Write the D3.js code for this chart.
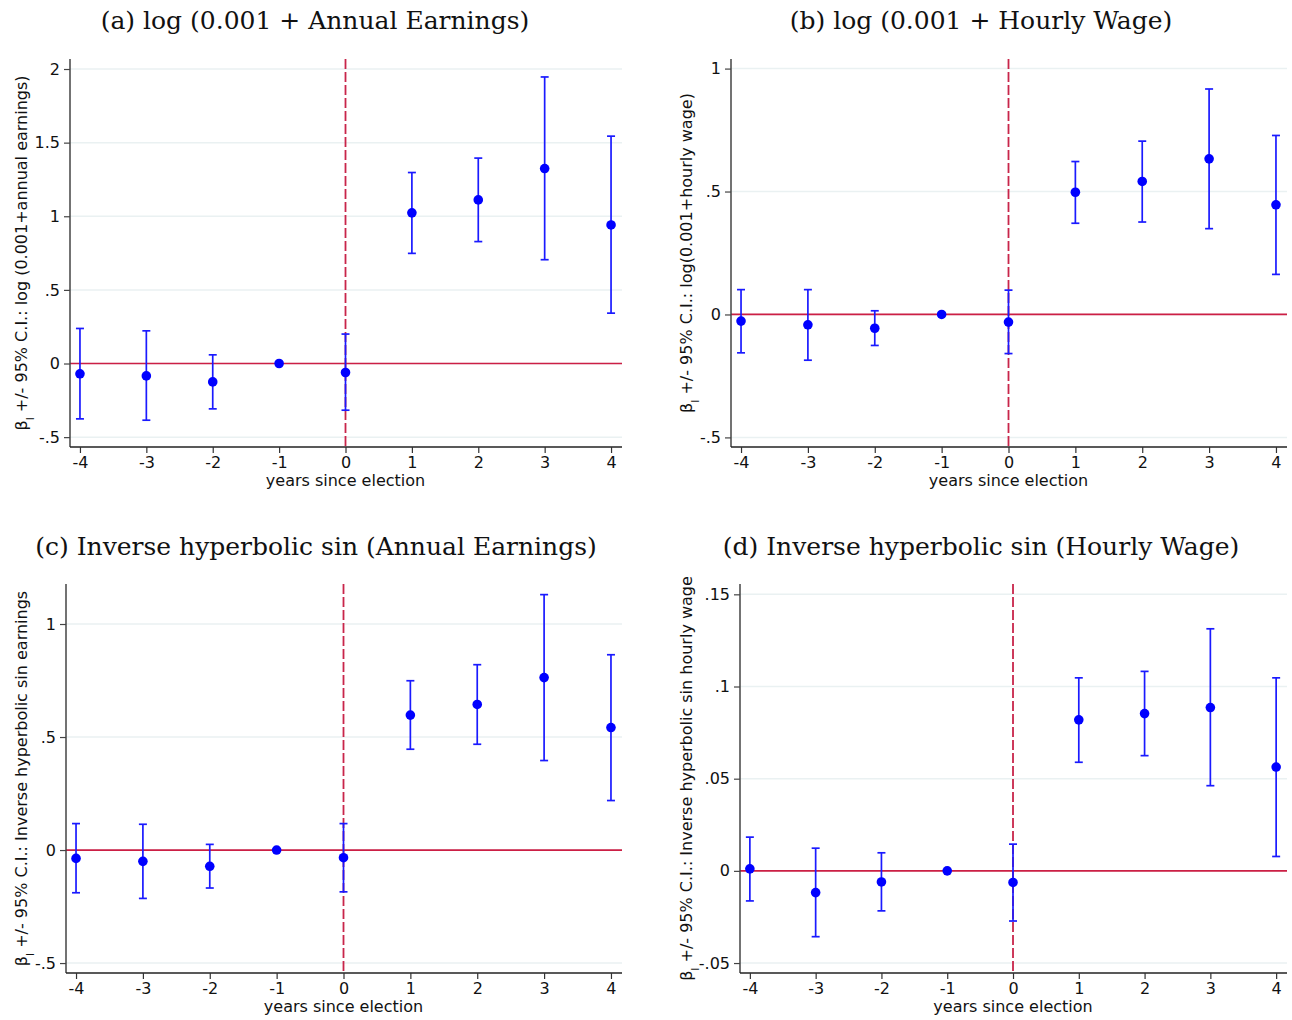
<!DOCTYPE html>
<html>
<head>
<meta charset="utf-8">
<script src="https://cdn.jsdelivr.net/npm/d3@7"></script>
<style>
  body { margin: 0; background: #fff; }
  svg { display: block; }
</style>
</head>
<body>
<script>
const width = 1292;
const height = 1020;

// event time
const years = [-4, -3, -2, -1, 0, 1, 2, 3, 4];

// (a) log(0.001 + annual earnings)
const logEarnCoef = [-0.070, -0.084, -0.125, 0, -0.061, 1.023, 1.111, 1.324, 0.941];
const logEarnLo = [-0.376, -0.385, -0.308, 0, -0.317, 0.748, 0.828, 0.705, 0.342];
const logEarnHi = [0.238, 0.222, 0.059, 0, 0.200, 1.297, 1.395, 1.946, 1.544];

// (b) log(0.001 + hourly wage)
const logWageCoef = [-0.027, -0.042, -0.056, 0, -0.031, 0.497, 0.541, 0.633, 0.446];
const logWageLo = [-0.156, -0.186, -0.126, 0, -0.159, 0.371, 0.376, 0.349, 0.163];
const logWageHi = [0.101, 0.101, 0.015, 0, 0.099, 0.622, 0.705, 0.917, 0.728];

// (c) inverse hyperbolic sine earnings
const ihsEarnCoef = [-0.037, -0.050, -0.072, 0, -0.034, 0.597, 0.644, 0.763, 0.542];
const ihsEarnLo = [-0.189, -0.214, -0.168, 0, -0.185, 0.446, 0.468, 0.396, 0.219];
const ihsEarnHi = [0.117, 0.114, 0.025, 0, 0.117, 0.749, 0.820, 1.130, 0.864];

// (d) inverse hyperbolic sine hourly wage
const ihsWageCoef = [0.0011, -0.0118, -0.0060, 0, -0.0063, 0.0819, 0.0853, 0.0886, 0.0563];
const ihsWageLo = [-0.0163, -0.0357, -0.0217, 0, -0.0272, 0.0589, 0.0625, 0.0462, 0.0078];
const ihsWageHi = [0.0183, 0.0123, 0.0098, 0, 0.0145, 0.1047, 0.1082, 0.1313, 0.1047];

// axis ticks and labels
const xTicks = [-4, -3, -2, -1, 0, 1, 2, 3, 4];
const ticksA = [-0.5, 0, 0.5, 1, 1.5, 2];
const tickLabelsA = ["-.5", "0", ".5", "1", "1.5", "2"];
const ticksB = [-0.5, 0, 0.5, 1];
const tickLabelsB = ["-.5", "0", ".5", "1"];
const ticksC = [-0.5, 0, 0.5, 1];
const tickLabelsC = ["-.5", "0", ".5", "1"];
const ticksD = [-0.05, 0, 0.05, 0.1, 0.15];
const tickLabelsD = ["-.05", "0", ".05", ".1", ".15"];

const titles = [
  "(a) log (0.001 + Annual Earnings)",
  "(b) log (0.001 + Hourly Wage)",
  "(c) Inverse hyperbolic sin (Annual Earnings)",
  "(d) Inverse hyperbolic sin (Hourly Wage)",
];
const yTitles = [
  " +/- 95% C.I.: log (0.001+annual earnings)",
  " +/- 95% C.I.: log(0.001+hourly wage)",
  " +/- 95% C.I.: Inverse hyperbolic sin earnings",
  " +/- 95% C.I.: Inverse hyperbolic sin hourly wage",
];
const xTitle = "years since election";

const toRows = (coef, lo, hi) =>
  years.map((yr, i) => ({ yr, b: coef[i], lo: lo[i], hi: hi[i] }));

const panels = [
  { rows: toRows(logEarnCoef, logEarnLo, logEarnHi), ticks: ticksA, labels: tickLabelsA,
    yDomain: [-0.567, 2.068], left: 70, right: 622, top: 59, bottom: 447, titleX: 315, titleY: 29, yTitleX: 27 },
  { rows: toRows(logWageCoef, logWageLo, logWageHi), ticks: ticksB, labels: tickLabelsB,
    yDomain: [-0.539, 1.039], left: 731, right: 1287, top: 59, bottom: 447, titleX: 981, titleY: 29, yTitleX: 692 },
  { rows: toRows(ihsEarnCoef, ihsEarnLo, ihsEarnHi), ticks: ticksC, labels: tickLabelsC,
    yDomain: [-0.544, 1.177], left: 66, right: 622, top: 584, bottom: 973, titleX: 316, titleY: 555, yTitleX: 27 },
  { rows: toRows(ihsWageCoef, ihsWageLo, ihsWageHi), ticks: ticksD, labels: tickLabelsD,
    yDomain: [-0.0554, 0.1556], left: 740, right: 1287, top: 584, bottom: 973, titleX: 981, titleY: 555, yTitleX: 692 },
];

const svg = d3
  .select("body")
  .append("svg")
  .attr("width", width)
  .attr("height", height)
  .style("font-family", "DejaVu Sans");

panels.forEach((p, k) => {
  const x = d3.scaleLinear().domain([-4.15, 4.165]).range([p.left, p.right]);
  const y = d3.scaleLinear().domain(p.yDomain).range([p.bottom, p.top]);
  const g = svg.append("g");

  // title
  g.append("text")
    .attr("x", p.titleX)
    .attr("y", p.titleY)
    .attr("text-anchor", "middle")
    .style("font-family", "DejaVu Serif")
    .style("font-size", "25px")
    .style("font-weight", "300")
    .attr("fill", "#111")
    .text(titles[k]);

  // gridlines
  g.append("g")
    .selectAll("line")
    .data(p.ticks)
    .join("line")
    .attr("x1", p.left)
    .attr("x2", p.right)
    .attr("y1", (d) => y(d))
    .attr("y2", (d) => y(d))
    .attr("stroke", "#eaf1f2")
    .attr("stroke-width", 1.5);

  // zero line
  g.append("line")
    .attr("x1", p.left)
    .attr("x2", p.right)
    .attr("y1", y(0))
    .attr("y2", y(0))
    .attr("stroke", "#cc1f45")
    .attr("stroke-width", 1.7);

  // election line
  g.append("line")
    .attr("x1", x(0))
    .attr("x2", x(0))
    .attr("y1", p.top)
    .attr("y2", p.bottom)
    .attr("stroke", "#c8254a")
    .attr("stroke-width", 1.8)
    .attr("stroke-dasharray", "10,3");

  // y axis
  const yAxis = d3
    .axisLeft(y)
    .tickValues(p.ticks)
    .tickSize(6)
    .tickPadding(4)
    .tickSizeOuter(0)
    .tickFormat((d, i) => p.labels[i]);
  const ya = g.append("g").attr("transform", `translate(${p.left},0)`).call(yAxis);
  ya.select(".domain").attr("d", `M0,${p.top}V${p.bottom}`).attr("stroke", "#444").attr("stroke-width", 1.5);
  ya.selectAll(".tick line").attr("stroke", "#444").attr("stroke-width", 1.2);
  ya.selectAll(".tick text").style("font-size", "16px").style("font-family", "DejaVu Sans").attr("fill", "#111");

  // x axis
  const xAxis = d3
    .axisBottom(x)
    .tickValues(xTicks)
    .tickSize(6)
    .tickPadding(4)
    .tickSizeOuter(0)
    .tickFormat(d3.format("d"));
  const xa = g.append("g").attr("transform", `translate(0,${p.bottom})`).call(xAxis);
  xa.select(".domain").attr("d", `M${p.left},0H${p.right}`).attr("stroke", "#222").attr("stroke-width", 1.5);
  xa.selectAll(".tick line").attr("stroke", "#333").attr("stroke-width", 1.2);
  xa.selectAll(".tick text").style("font-size", "16px").style("font-family", "DejaVu Sans").attr("fill", "#111")
    .text((d) => (d < 0 ? "-" + Math.abs(d) : d));

  g.append("text")
    .attr("x", x(0))
    .attr("y", p.bottom + 39)
    .attr("text-anchor", "middle")
    .style("font-size", "16px")
    .attr("fill", "#111")
    .text(xTitle);

  // y title
  const yt = g.append("text")
    .attr("transform", `translate(${p.yTitleX},${(p.top + p.bottom) / 2}) rotate(-90)`)
    .attr("text-anchor", "middle")
    .style("font-size", "16px")
    .attr("fill", "#111");
  yt.append("tspan").text("β");
  yt.append("tspan").attr("baseline-shift", "sub").style("font-size", "11px").text("l");
  yt.append("tspan").text(yTitles[k]);

  // confidence intervals
  const bars = p.rows.filter((d) => d.hi !== d.lo);
  const cap = 4;
  const eb = g.append("g").attr("stroke", "#1a1aff").attr("stroke-width", 1.7);
  eb.selectAll(".stem")
    .data(bars)
    .join("line")
    .attr("x1", (d) => x(d.yr))
    .attr("x2", (d) => x(d.yr))
    .attr("y1", (d) => y(d.lo))
    .attr("y2", (d) => y(d.hi));
  eb.selectAll(".capHi")
    .data(bars)
    .join("line")
    .attr("class", "capHi")
    .attr("x1", (d) => x(d.yr) - cap)
    .attr("x2", (d) => x(d.yr) + cap)
    .attr("y1", (d) => y(d.hi))
    .attr("y2", (d) => y(d.hi));
  eb.selectAll(".capLo")
    .data(bars)
    .join("line")
    .attr("class", "capLo")
    .attr("x1", (d) => x(d.yr) - cap)
    .attr("x2", (d) => x(d.yr) + cap)
    .attr("y1", (d) => y(d.lo))
    .attr("y2", (d) => y(d.lo));

  // point estimates
  g.append("g")
    .selectAll("circle")
    .data(p.rows)
    .join("circle")
    .attr("cx", (d) => x(d.yr))
    .attr("cy", (d) => y(d.b))
    .attr("r", 4.8)
    .attr("fill", "#0000ff");
});
</script>
</body>
</html>
